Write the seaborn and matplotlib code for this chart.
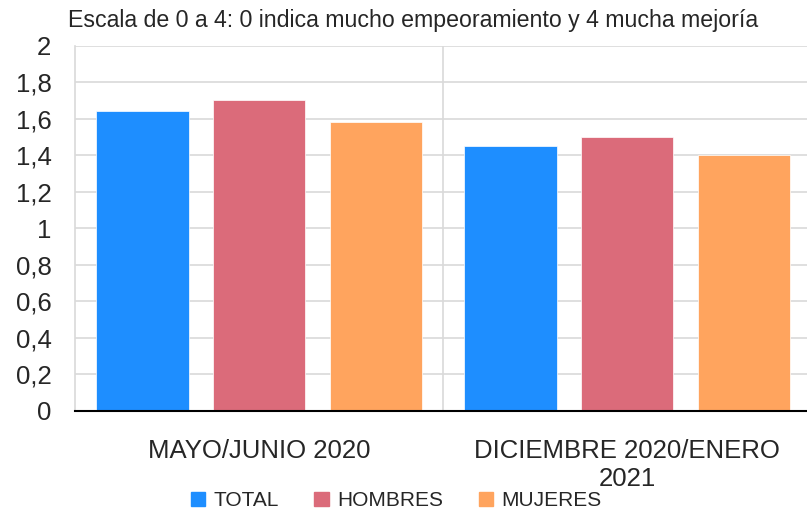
import pandas as pd
import seaborn as sns
import matplotlib.pyplot as plt
from matplotlib.patches import Patch

periods = ["MAYO/JUNIO 2020", "DICIEMBRE 2020/ENERO\n2021"]
groups = ["TOTAL", "HOMBRES", "MUJERES"]
total = [1.64, 1.45]
hombres = [1.70, 1.50]
mujeres = [1.58, 1.40]
colors = ["#1E8EFF", "#DB6B7A", "#FFA45E"]
title = "Escala de 0 a 4: 0 indica mucho empeoramiento y 4 mucha mejoría"

df = pd.DataFrame({
    "periodo": periods * 3,
    "grupo": [g for g in groups for _ in periods],
    "valor": total + hombres + mujeres,
})

sns.set_style("white")
plt.rcParams["font.family"] = ["Liberation Sans", "DejaVu Sans"]

fig = plt.figure(figsize=(8.07, 5.13), dpi=100)
ax = fig.add_axes([0.093, 0.199, 0.912, 0.712])
sns.barplot(data=df, x="periodo", y="valor", hue="grupo", palette=colors, saturation=1,
            width=0.95, gap=0.21, ax=ax, legend=False, edgecolor="white", linewidth=0.5)

ax.set_ylim(0, 2)
ax.set_xlim(-0.5, 1.5)
ax.set_yticks([i / 5 for i in range(11)])
ax.set_yticklabels(["0", "0,2", "0,4", "0,6", "0,8", "1", "1,2", "1,4", "1,6", "1,8", "2"], fontsize=18.5)
ax.tick_params(axis="x", labelsize=18.5, pad=20, length=0)
ax.tick_params(axis="y", pad=17, length=0)
for lbl in ax.get_xticklabels():
    lbl.set_linespacing(1.25)
ax.yaxis.grid(True, color="#d9d9d9", linewidth=1.2)
ax.axvline(0.5, color="#d9d9d9", linewidth=1.2, zorder=0)
ax.set_axisbelow(True)
ax.set_xlabel("")
ax.set_ylabel("")
for s in ["top", "right"]:
    ax.spines[s].set_visible(False)
ax.spines["left"].set_color("#d9d9d9")
ax.spines["left"].set_linewidth(1.2)
ax.spines["bottom"].set_color("black")
ax.spines["bottom"].set_linewidth(1.5)

fig.text(0.512, 0.96, title, ha="center", va="center", fontsize=16.7)

handles = [Patch(color=c, label=g) for c, g in zip(colors, groups)]
fig.legend(handles=handles, loc="center", bbox_to_anchor=(0.491, 0.024), ncol=3,
           frameon=False, fontsize=15, handlelength=0.7, handleheight=0.7,
           handletextpad=0.4, columnspacing=1.7, borderpad=0)

fig.savefig("out.png", dpi=100)
